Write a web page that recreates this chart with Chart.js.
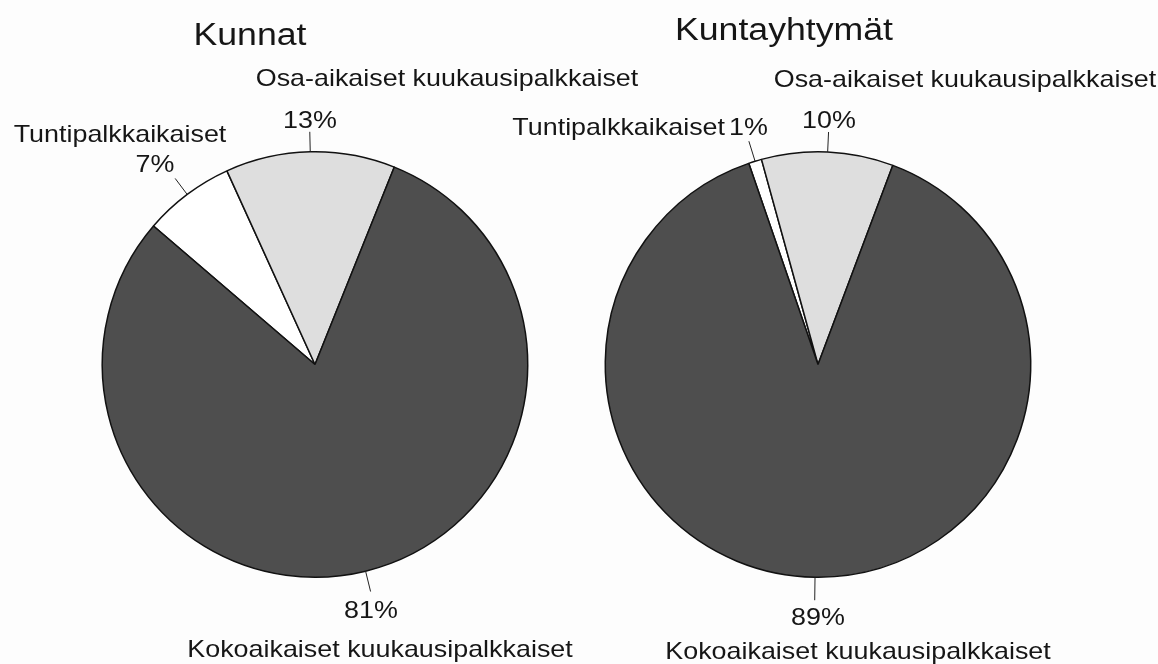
<!DOCTYPE html>
<html>
<head>
<meta charset="utf-8">
<script src="https://cdn.jsdelivr.net/npm/chart.js@4/dist/chart.umd.min.js"></script>
<style>
  body { margin: 0; background: #fdfdfd; }
  #wrap { position: relative; width: 1158px; height: 664px; overflow: hidden; }
  canvas { position: absolute; top: 0; left: 0; }
</style>
</head>
<body>
<div id="wrap">
  <canvas id="kunnat" width="1158" height="664"></canvas>
  <canvas id="kuntayhtymat" width="1158" height="664"></canvas>
</div>
<script>
const categories = ['Tuntipalkkaikaiset', 'Osa-aikaiset kuukausipalkkaiset', 'Kokoaikaiset kuukausipalkkaiset'];
const kunnatValues = [7, 13, 81];
const kuntayhtymatValues = [1, 10, 89];
const titles = ['Kunnat', 'Kuntayhtymät'];
const sliceColors = ['#ffffff', '#dedede', '#4e4e4e'];

const FONT = '"Liberation Sans", Arial, sans-serif';
const TEXT_COLOR = '#161616';

// text in the picture is a bit wider than Arial, so stretch it horizontally
function drawText(ctx, text, x, y, size, align, sx) {
  ctx.save();
  ctx.translate(x, y);
  ctx.scale(sx, 1);
  ctx.font = size + 'px ' + FONT;
  ctx.fillStyle = TEXT_COLOR;
  ctx.textAlign = align;
  ctx.textBaseline = 'alphabetic';
  ctx.fillText(text, 0, 0);
  ctx.restore();
}

// leader lines go out radially from the middle of each slice,
// name/percent labels are placed around them
const labelPlugin = {
  id: 'pieLabels',
  afterDraw(chart, args, opts) {
    const ctx = chart.ctx;
    const meta = chart.getDatasetMeta(0);
    const values = chart.data.datasets[0].data;

    drawText(ctx, opts.title, opts.titlePos[0], opts.titlePos[1], 31, 'center', 1.15);

    meta.data.forEach((arc, i) => {
      const p = arc.getProps(['x', 'y', 'startAngle', 'endAngle', 'outerRadius'], true);
      const lab = opts.labels[i];
      const mid = (p.startAngle + p.endAngle) / 2;
      const r0 = p.outerRadius;
      const r1 = p.outerRadius + lab.lead;
      ctx.save();
      ctx.strokeStyle = '#222';
      ctx.lineWidth = 1;
      ctx.beginPath();
      ctx.moveTo(p.x + Math.cos(mid) * r0, p.y + Math.sin(mid) * r0);
      ctx.lineTo(p.x + Math.cos(mid) * r1, p.y + Math.sin(mid) * r1);
      ctx.stroke();
      ctx.restore();

      drawText(ctx, chart.data.labels[i], lab.name[0], lab.name[1], 24, lab.name[2], 1.12);
      drawText(ctx, values[i] + '%', lab.pct[0], lab.pct[1], 24, lab.pct[2], 1.12);
    });
  }
};

function makePie(id, values, title, rotation, padding, titlePos, labels) {
  return new Chart(document.getElementById(id), {
    type: 'pie',
    data: {
      labels: categories,
      datasets: [{
        data: values,
        backgroundColor: sliceColors,
        borderColor: '#111',
        borderWidth: 1.5,
        hoverOffset: 0
      }]
    },
    options: {
      responsive: false,
      animation: false,
      devicePixelRatio: 1,
      events: [],
      rotation: rotation,
      layout: { padding: padding },
      plugins: {
        legend: { display: false },
        tooltip: { enabled: false },
        pieLabels: { title: title, titlePos: titlePos, labels: labels }
      }
    },
    plugins: [labelPlugin]
  });
}

makePie('kunnat', kunnatValues, titles[0], -49.4,
  { left: 101, right: 629, top: 151, bottom: 86 },
  [250, 45],
  [
    { name: [120, 142, 'center'], pct: [155, 172, 'center'], lead: 20 },
    { name: [447, 86, 'center'], pct: [310, 128, 'center'], lead: 20 },
    { name: [380, 657, 'center'], pct: [371, 618, 'center'], lead: 21 }
  ]);

makePie('kuntayhtymat', kuntayhtymatValues, titles[1], -19,
  { left: 604, right: 126, top: 151, bottom: 86 },
  [784, 40],
  [
    { name: [725, 135, 'right'], pct: [729, 135, 'left'], lead: 21 },
    { name: [965, 87, 'center'], pct: [829, 128, 'center'], lead: 20 },
    { name: [858, 659, 'center'], pct: [818, 625, 'center'], lead: 23 }
  ]);
</script>
</body>
</html>
